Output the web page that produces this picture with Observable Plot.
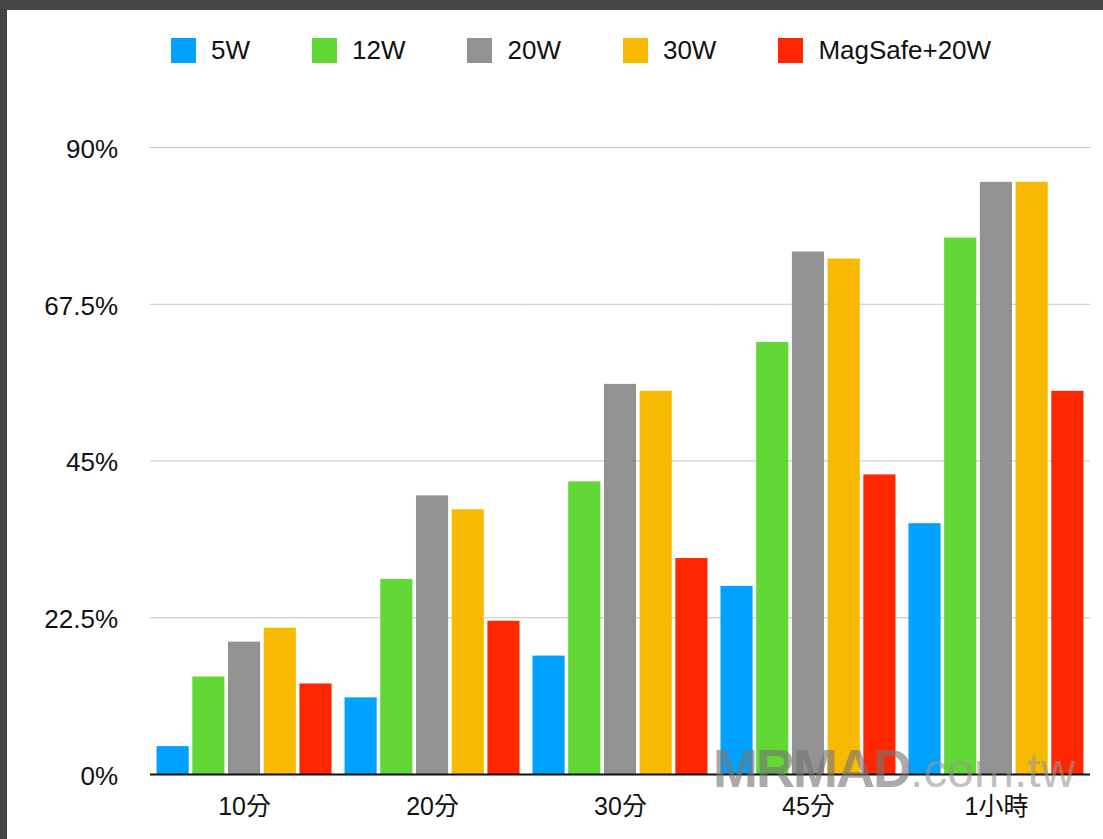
<!DOCTYPE html>
<html>
<head>
<meta charset="utf-8">
<script src="https://cdn.jsdelivr.net/npm/d3@7"></script>
<script src="https://cdn.jsdelivr.net/npm/@observablehq/plot@0.6"></script>
<style>
  html, body { margin: 0; padding: 0; background: #454545; width: 1103px; height: 839px; overflow: hidden; }
  #frame { position: absolute; left: 7px; top: 10px; width: 1096px; height: 829px; background: #fff; overflow: hidden; }
  #legend { position: absolute; left: 164px; top: 28px; display: flex; gap: 62px; font-family: "Liberation Sans", Arial, sans-serif; font-size: 26px; color: #111; }
  .item { display: flex; align-items: center; height: 25px; }
  .sw { width: 25px; height: 25px; margin-right: 15px; }
  #chart { position: absolute; left: 0; top: 90px; }
  #wm { position: absolute; left: 706px; top: 731px; white-space: nowrap; font-family: "Liberation Sans", Arial, sans-serif; line-height: 1; pointer-events: none; }
  #wm .b { font-size: 54px; font-weight: bold; letter-spacing: -2px; color: rgba(118,118,118,0.62); }
  #wm .l { font-size: 48px; font-weight: normal; color: rgba(150,150,150,0.6); }
</style>
</head>
<body>
<div id="frame">
  <div id="legend"></div>
  <div id="chart"></div>
  <div id="wm"><span class="b">MRMAD</span><span class="l">.com.tw</span></div>
</div>
<script>
const categories = ["10分", "20分", "30分", "45分", "1小時"];
const series = ["5W", "12W", "20W", "30W", "MagSafe+20W"];
const colors = ["#00a2ff", "#61d836", "#929292", "#f8ba00", "#ff2600"];
const v5W = [4, 11, 17, 27, 36];
const v12W = [14, 28, 42, 62, 77];
const v20W = [19, 40, 56, 75, 85];
const v30W = [21, 38, 55, 74, 85];
const vMagSafe = [13, 22, 31, 43, 55];
const yTicks = [0, 22.5, 45, 67.5, 90];

const valuesBySeries = [v5W, v12W, v20W, v30W, vMagSafe];
const data = [];
categories.forEach((c, i) => {
  series.forEach((s, j) => {
    data.push({time: c, series: s, value: valuesBySeries[j][i]});
  });
});

// legend
const legend = document.getElementById("legend");
series.forEach((s, j) => {
  const it = document.createElement("div");
  it.className = "item";
  const sw = document.createElement("div");
  sw.className = "sw";
  sw.style.background = colors[j];
  const t = document.createElement("span");
  t.textContent = s;
  it.appendChild(sw);
  it.appendChild(t);
  legend.appendChild(it);
});

// half of the gap between facet groups, so grid lines join up across groups
const ext = -6.6;

const chart = Plot.plot({
  width: 1096,
  height: 739,
  marginTop: 47,
  marginBottom: 65,
  marginLeft: 143,
  marginRight: 13,
  style: {fontFamily: "'Liberation Sans', Arial, 'Noto Sans CJK TC', sans-serif", fontSize: "25px", color: "#111", background: "#fff"},
  fx: {domain: categories, paddingInner: 0.069, paddingOuter: 0.035, round: false, label: null},
  x: {domain: series, paddingInner: 0.1, paddingOuter: 0, round: false, axis: null},
  y: {domain: [0, 90], label: null},
  color: {domain: series, range: colors},
  marks: [
    Plot.ruleY(yTicks.filter(d => d > 0), {stroke: "#c4c4c4", strokeWidth: 1, insetLeft: ext, insetRight: ext}),
    Plot.barY(data, {fx: "time", x: "series", y: "value", fill: "series"}),
    Plot.ruleY([0], {stroke: "#111", strokeWidth: 2.2, insetLeft: ext, insetRight: ext}),
    Plot.axisY({ticks: yTicks, tickFormat: d => d + "%", tickSize: 0, tickPadding: 39, dy: 2, label: null, fontSize: 26}),
    Plot.axisFx({anchor: "bottom", tickSize: 0, tickPadding: 23, label: null, fontSize: 25})
  ]
});
document.getElementById("chart").appendChild(chart);
</script>
</body>
</html>
